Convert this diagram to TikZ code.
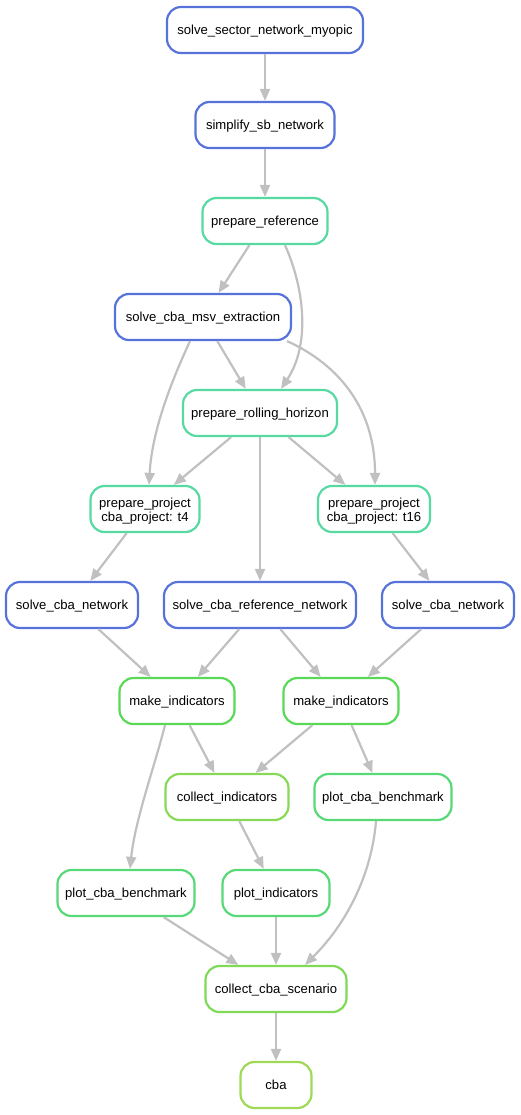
\documentclass[tikz,border=0pt]{standalone}
\usepackage{fontspec}
\setmainfont{Liberation Sans}
\usetikzlibrary{arrows.meta}
\definecolor{cblue}{RGB}{87,115,217}
\definecolor{cteal}{RGB}{87,217,162}
\definecolor{cgreen}{RGB}{89,217,87}
\definecolor{cplot}{RGB}{87,217,120}
\definecolor{ccoll}{RGB}{136,217,87}
\definecolor{cscen}{RGB}{128,217,87}
\definecolor{ccba}{RGB}{160,217,87}
\definecolor{cedge}{RGB}{192,192,192}
\newcommand{\twolines}[2]{\vtop{\baselineskip=13.5pt\halign{\hfil##\hfil\cr #1\cr #2\cr}}}
\tikzset{
  rule/.style={draw=#1, line width=2.2pt, rounded corners=14pt, fill=white,
    minimum height=46pt, inner xsep=5pt, inner ysep=2pt,
    text height=11pt, text depth=2pt,
    font=\fontsize{13.1}{15}\selectfont},
  tworule/.style={rule=#1, text height=13.5pt, text depth=16.5pt, inner ysep=1pt},
  edge/.style={draw=cedge, line width=2.2pt, -{Triangle[length=12pt,width=10pt]}},
}
\begin{document}
\begin{tikzpicture}[x=1pt,y=1pt]
\useasboundingbox (0,0) rectangle (520,-1115);
\node[rule=cblue, minimum width=196pt] (ssn) at (265,-30) {solve\_sector\_network\_myopic};
\node[rule=cblue, minimum width=139pt] (ssb) at (265,-125) {simplify\_sb\_network};
\node[rule=cteal, minimum width=125pt] (pref) at (265,-221) {prepare\_reference};
\node[rule=cblue, minimum width=176pt] (msv) at (203,-317) {solve\_cba\_msv\_extraction};
\node[rule=cteal, minimum width=154pt] (prh) at (260,-413) {prepare\_rolling\_horizon};
\node[tworule=cteal, minimum width=109pt] (pp4) at (145,-509) {\twolines{prepare\_project}{cba\_project: t4}};
\node[tworule=cteal, minimum width=112pt] (pp16) at (374,-509) {\twolines{prepare\_project}{cba\_project: t16}};
\node[rule=cblue, minimum width=132pt] (scn1) at (72,-605) {solve\_cba\_network};
\node[rule=cblue, minimum width=192pt] (scrn) at (260,-605) {solve\_cba\_reference\_network};
\node[rule=cblue, minimum width=132pt] (scn2) at (448,-605) {solve\_cba\_network};
\node[rule=cgreen, minimum width=115pt] (mi1) at (177,-701) {make\_indicators};
\node[rule=cgreen, minimum width=115pt] (mi2) at (341,-701) {make\_indicators};
\node[rule=ccoll, minimum width=123pt] (ci) at (227,-797) {collect\_indicators};
\node[rule=cplot, minimum width=137pt] (pcb2) at (383,-797) {plot\_cba\_benchmark};
\node[rule=cplot, minimum width=137pt] (pcb1) at (126,-893) {plot\_cba\_benchmark};
\node[rule=cplot, minimum width=107pt] (pi) at (276,-893) {plot\_indicators};
\node[rule=cscen, minimum width=141pt] (ccs) at (276,-989) {collect\_cba\_scenario};
\node[rule=ccba, minimum width=71pt] (cba) at (276,-1085) {cba};

\draw[edge] (ssn) -- (ssb);
\draw[edge] (ssb) -- (pref);
\draw[edge] (pref) -- (msv);
\draw[edge] ([xshift=20pt]pref.south) .. controls (305,-290) and (310,-345) .. ([xshift=21pt]prh.north);
\draw[edge] (msv) -- (prh);
\draw[edge] ([xshift=-13pt]msv.south) .. controls (172,-380) and (152,-430) .. ([xshift=4pt]pp4.north);
\draw[edge] ([xshift=84pt]msv.south) .. controls (340,-365) and (375,-410) .. ([xshift=1pt]pp16.north);
\draw[edge] (prh) -- (pp4);
\draw[edge] (prh) -- (pp16);
\draw[edge] (prh) -- (scrn);
\draw[edge] (pp4) -- (scn1);
\draw[edge] (pp16) -- (scn2);
\draw[edge] (scn1) -- (mi1);
\draw[edge] (scrn) -- (mi1);
\draw[edge] (scrn) -- (mi2);
\draw[edge] (scn2) -- (mi2);
\draw[edge] (mi1) -- (ci);
\draw[edge] ([xshift=-12pt]mi1.south) .. controls (155,-765) and (135,-820) .. ([xshift=4pt]pcb1.north);
\draw[edge] (mi2) -- (ci);
\draw[edge] (mi2) -- (pcb2);
\draw[edge] (ci) -- (pi);
\draw[edge] ([xshift=-7pt]pcb2.south) .. controls (372,-870) and (350,-920) .. ([xshift=29pt]ccs.north);
\draw[edge] (pcb1) -- (ccs);
\draw[edge] (pi) -- (ccs);
\draw[edge] (ccs) -- (cba);
\end{tikzpicture}
\end{document}
